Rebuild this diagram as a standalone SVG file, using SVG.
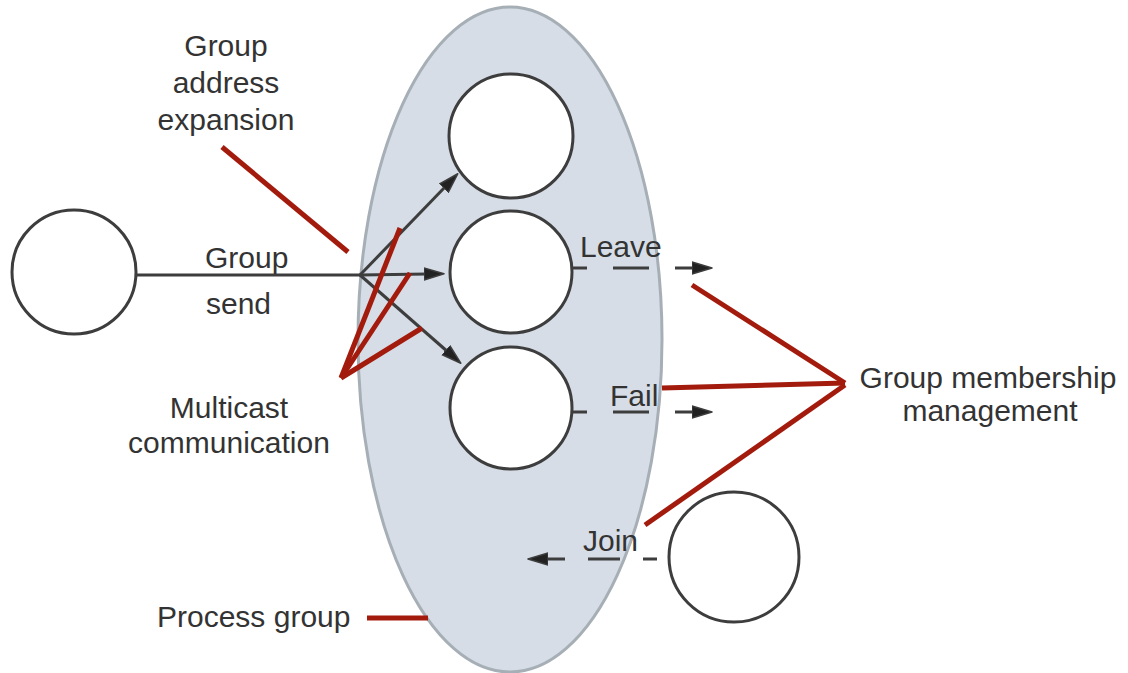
<svg xmlns="http://www.w3.org/2000/svg" width="1128" height="673" viewBox="0 0 1128 673">
<defs>
<style>
.lbl{font-family:"Liberation Sans",Arial,sans-serif;font-size:30px;fill:#333333}
.c{text-anchor:middle}
.node{fill:#ffffff;stroke:#3d3d3d;stroke-width:3}
.ln{stroke:#3d3d3d;stroke-width:3;fill:none}
.red{stroke:#a31b0d;stroke-width:5;fill:none}
</style>
<marker id="ah" markerUnits="userSpaceOnUse" markerWidth="22" markerHeight="16" refX="3" refY="7" orient="auto" viewBox="0 0 22 14">
<path d="M0,1 L20,7 L0,13 z" fill="#222222" stroke="#3d3d3d" stroke-width="1.5" stroke-linejoin="round"/>
</marker>
</defs>
<rect width="1128" height="673" fill="#ffffff"/>
<g id="process-group">
<ellipse cx="510" cy="339.5" rx="152" ry="332.5" fill="#d6dde6" stroke="#a7afb6" stroke-width="3"/>
</g>
<g id="connectors">
<line class="ln" x1="137" y1="275" x2="360" y2="275"/>
<line class="ln" x1="360" y1="275" x2="446" y2="186" marker-end="url(#ah)"/>
<line class="ln" x1="360" y1="275" x2="427" y2="274" marker-end="url(#ah)"/>
<line class="ln" x1="360" y1="275" x2="448" y2="352" marker-end="url(#ah)"/>
<line class="ln" x1="573" y1="268" x2="695" y2="268" stroke-dasharray="36 26" stroke-dashoffset="22" marker-end="url(#ah)"/>
<line class="ln" x1="573" y1="412" x2="695" y2="412" stroke-dasharray="36 26" stroke-dashoffset="22" marker-end="url(#ah)"/>
<line class="ln" x1="657" y1="559" x2="545" y2="559" stroke-dasharray="32 23" stroke-dashoffset="18" marker-end="url(#ah)"/>
<line class="red" x1="222" y1="147" x2="348" y2="252"/>
<line class="red" x1="341" y1="378" x2="400" y2="228"/>
<line class="red" x1="341" y1="378" x2="410" y2="273"/>
<line class="red" x1="341" y1="378" x2="422" y2="328"/>
<line class="red" x1="692" y1="285" x2="845" y2="383"/>
<line class="red" x1="662" y1="388" x2="845" y2="383"/>
<line class="red" x1="645" y1="525" x2="845" y2="385"/>
<line class="red" x1="367" y1="618" x2="428" y2="618"/>
</g>
<g id="sender"><circle class="node" cx="74" cy="272" r="62"/></g>
<g id="member-1"><circle class="node" cx="511" cy="136" r="62"/></g>
<g id="member-2"><circle class="node" cx="511" cy="272" r="61"/></g>
<g id="member-3"><circle class="node" cx="511" cy="408" r="61"/></g>
<g id="joiner"><circle class="node" cx="734" cy="557" r="65"/></g>
<g id="labels">
<text class="lbl c" x="226" y="56">Group</text>
<text class="lbl c" x="226" y="93">address</text>
<text class="lbl c" x="226" y="130">expansion</text>
<text class="lbl" x="205" y="268">Group</text>
<text class="lbl" x="206" y="314">send</text>
<text class="lbl c" x="229" y="418">Multicast</text>
<text class="lbl c" x="229" y="453">communication</text>
<text class="lbl" x="580" y="257">Leave</text>
<text class="lbl" x="610" y="406">Fail</text>
<text class="lbl" x="583" y="551">Join</text>
<text class="lbl c" x="988" y="388">Group membership</text>
<text class="lbl c" x="990" y="421">management</text>
<text class="lbl" x="157" y="627">Process group</text>
</g>
</svg>
